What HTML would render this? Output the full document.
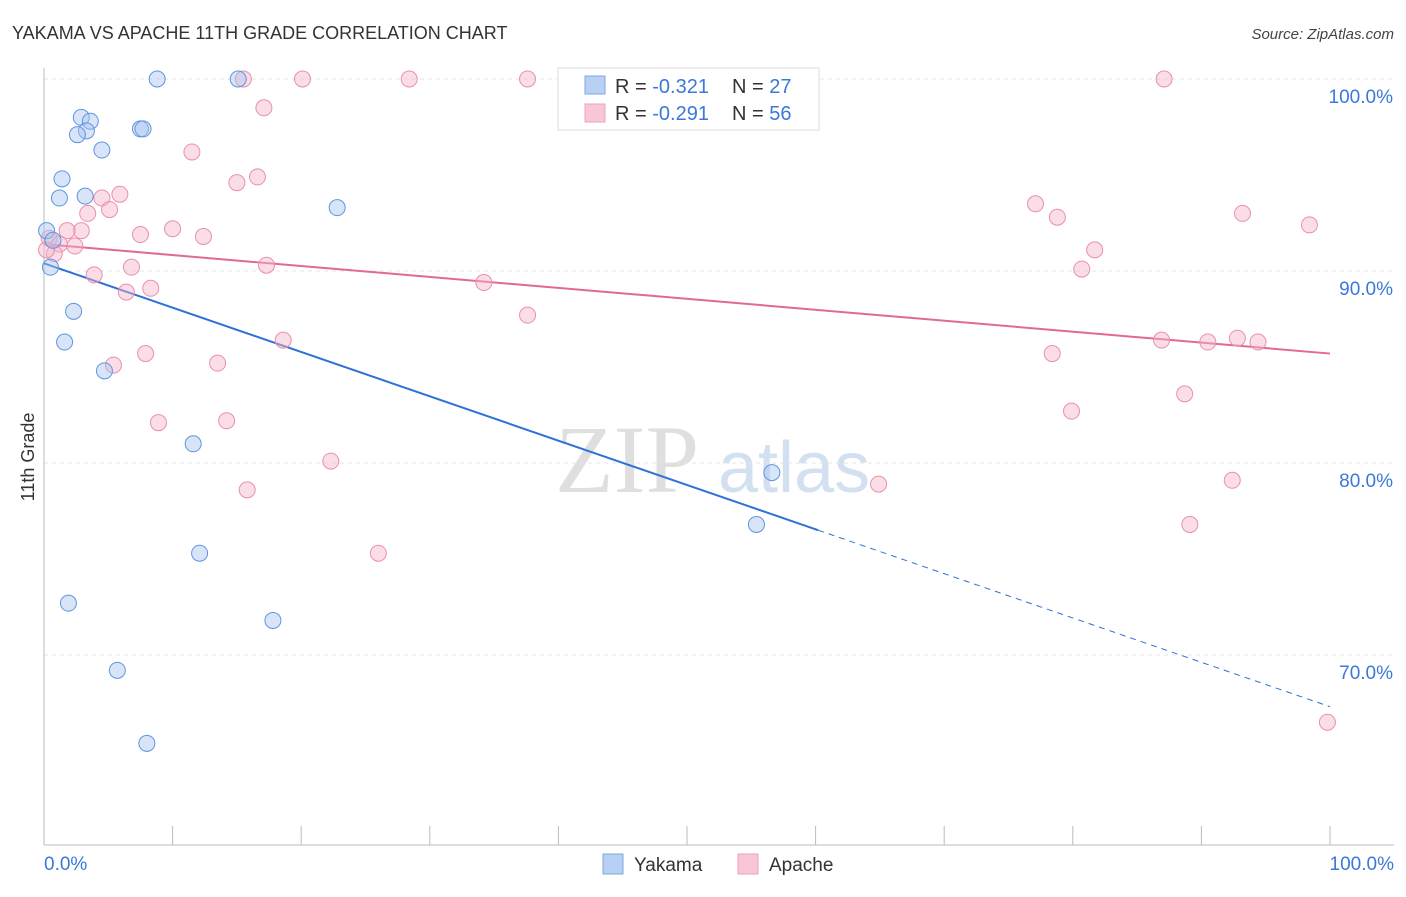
<!DOCTYPE html>
<html><head><meta charset="utf-8">
<style>
html,body{margin:0;padding:0;background:#fff;}
body{width:1406px;height:892px;overflow:hidden;font-family:"Liberation Sans",sans-serif;}
</style></head>
<body>
<svg id="chart" width="1406" height="892" xmlns="http://www.w3.org/2000/svg">
<text x="12" y="39" font-size="18" fill="#333" font-family="Liberation Sans, sans-serif">YAKAMA VS APACHE 11TH GRADE CORRELATION CHART</text>
<text x="1394" y="39" font-size="15" fill="#444" text-anchor="end" font-style="italic" font-family="Liberation Sans, sans-serif">Source: ZipAtlas.com</text>
<text transform="translate(34,457) rotate(-90)" font-size="18" fill="#333" text-anchor="middle" font-family="Liberation Sans, sans-serif">11th Grade</text>
<g>
<text x="555" y="492" font-size="96" fill="#d8d8d8" font-family="Liberation Serif, serif" opacity="0.8">ZIP</text>
<text x="718" y="492" font-size="72" fill="#c9d9ee" font-family="Liberation Sans, sans-serif" opacity="0.8">atlas</text>
</g>
<g id="grid"></g>
<g id="axes"></g>
<g id="lines"></g>
<g id="points"></g>
<g>
<rect x="558" y="68" width="261" height="62" fill="#fff" stroke="#ddd"/>
<rect x="585" y="76" width="20" height="18" fill="#b8d0f3" stroke="#7ea7e3"/>
<text x="615" y="93" font-size="20" fill="#333">R = <tspan fill="#3b78d8">-0.321</tspan></text>
<text x="732" y="93" font-size="20" fill="#333">N = <tspan fill="#3b78d8">27</tspan></text>
<rect x="585" y="104" width="20" height="18" fill="#f9c6d6" stroke="#eda3bc"/>
<text x="615" y="120" font-size="20" fill="#333">R = <tspan fill="#3b78d8">-0.291</tspan></text>
<text x="732" y="120" font-size="20" fill="#333">N = <tspan fill="#3b78d8">56</tspan></text>
</g>
<g>
<rect x="603" y="854" width="20" height="20" fill="#b8d0f3" stroke="#7ea7e3"/>
<text x="634" y="871" font-size="19" fill="#333">Yakama</text>
<rect x="738" y="854" width="20" height="20" fill="#f9c6d6" stroke="#eda3bc"/>
<text x="769" y="871" font-size="19" fill="#333">Apache</text>
</g>
</svg>
<script>
const yTicks=[100,90,80,70];
const yTickLabels=["100.0%","90.0%","80.0%","70.0%"];
const xTickLabels=["0.0%","100.0%"];
const yakamaX=[8.8,15.1,2.9,3.6,3.3,2.6,7.5,7.7,4.5,1.4,1.2,3.2,22.8,0.2,0.7,0.5,2.3,1.6,4.7,11.6,56.6,55.4,12.1,1.9,17.8,5.7,8.0];
const yakamaY=[100,100,98.0,97.8,97.3,97.1,97.4,97.4,96.3,94.8,93.8,93.9,93.3,92.1,91.6,90.2,87.9,86.3,84.8,81.0,79.5,76.8,75.3,72.7,71.8,69.2,65.4];
const apacheX=[15.5,20.1,28.4,37.6,87.1,17.1,11.5,15.0,16.6,5.9,4.5,3.4,5.1,10.0,7.5,12.4,2.9,1.8,0.4,1.2,2.4,0.8,0.2,6.8,17.3,3.9,6.4,8.3,77.1,78.8,93.2,98.4,81.7,80.7,34.2,37.6,18.6,7.9,5.4,13.5,78.4,86.9,90.5,92.8,94.4,79.9,88.7,8.9,14.2,22.3,15.8,64.9,92.4,26.0,89.1,99.8];
const apacheY=[100,100,100,100,100,98.5,96.2,94.6,94.9,94.0,93.8,93.0,93.2,92.2,91.9,91.8,92.1,92.1,91.7,91.4,91.3,90.9,91.1,90.2,90.3,89.8,88.9,89.1,93.5,92.8,93.0,92.4,91.1,90.1,89.4,87.7,86.4,85.7,85.1,85.2,85.7,86.4,86.3,86.5,86.3,82.7,83.6,82.1,82.2,80.1,78.6,78.9,79.1,75.3,76.8,66.5];
const yakamaTrend=[0,90.4,60.2,76.5];
const yakamaTrendEnd=100;
const apacheTrend=[0,91.4,100,85.7];

const NS="http://www.w3.org/2000/svg";
const sx=v=>44+v*12.86;
const sy=v=>79+(100-v)*19.2;
function mk(tag,attrs,parent){const e=document.createElementNS(NS,tag);for(const k in attrs)e.setAttribute(k,attrs[k]);parent.appendChild(e);return e;}
const grid=document.getElementById('grid'),axes=document.getElementById('axes'),lines=document.getElementById('lines'),pts=document.getElementById('points');
yTicks.forEach((t,i)=>{
 const l=mk('line',{x1:44,x2:1394,y1:sy(t),y2:sy(t),stroke:'#e4e4e4','stroke-dasharray':'4 4'},grid);
 
 
 const tx=mk('text',{x:1393,y:sy(t)+24,'font-size':19,fill:'#3b78d8','text-anchor':'end'},axes);
 tx.textContent=yTickLabels[i];
 
 
});
const ya=mk('line',{x1:44,x2:44,y1:68,y2:845,stroke:'#bbb'},axes);


const xa=mk('line',{x1:44,x2:1394,y1:845,y2:845,stroke:'#bbb'},axes);


for(let i=0;i<=10;i++){
 const tk=mk('line',{x1:sx(i*10),x2:sx(i*10),y1:826,y2:845,stroke:'#bbb'},axes);
 
 
}
const xl0=mk('text',{x:44,y:870,'font-size':19,fill:'#3b78d8'},axes);xl0.textContent=xTickLabels[0];


const xl1=mk('text',{x:1394,y:870,'font-size':19,fill:'#3b78d8','text-anchor':'end'},axes);xl1.textContent=xTickLabels[1];



function drawPts(xs,ys,fill,stroke,name){
 xs.forEach((x,i)=>{
  const c=mk('circle',{cx:sx(x),cy:sy(ys[i]),r:8,fill:fill,'fill-opacity':0.45,stroke:stroke,'stroke-width':1},pts);
  
  
 });
}
drawPts(apacheX,apacheY,'#f6b3c9','#e890ad','apache-point');
drawPts(yakamaX,yakamaY,'#a9c6f0','#5f95de','yakama-point');

const slope=(yakamaTrend[3]-yakamaTrend[1])/(yakamaTrend[2]-yakamaTrend[0]);
const yl=mk('line',{x1:sx(yakamaTrend[0]),y1:sy(yakamaTrend[1]),x2:sx(yakamaTrend[2]),y2:sy(yakamaTrend[3]),stroke:'#2f72d6','stroke-width':2},lines);


const yd=mk('line',{x1:sx(yakamaTrend[2]),y1:sy(yakamaTrend[3]),x2:sx(yakamaTrendEnd),y2:sy(yakamaTrend[3]+slope*(yakamaTrendEnd-yakamaTrend[2])),stroke:'#2f72d6','stroke-width':1,'stroke-dasharray':'6 5'},lines);


const al=mk('line',{x1:sx(apacheTrend[0]),y1:sy(apacheTrend[1]),x2:sx(apacheTrend[2]),y2:sy(apacheTrend[3]),stroke:'#e2689a','stroke-width':2},lines);


</script>
</body></html>
